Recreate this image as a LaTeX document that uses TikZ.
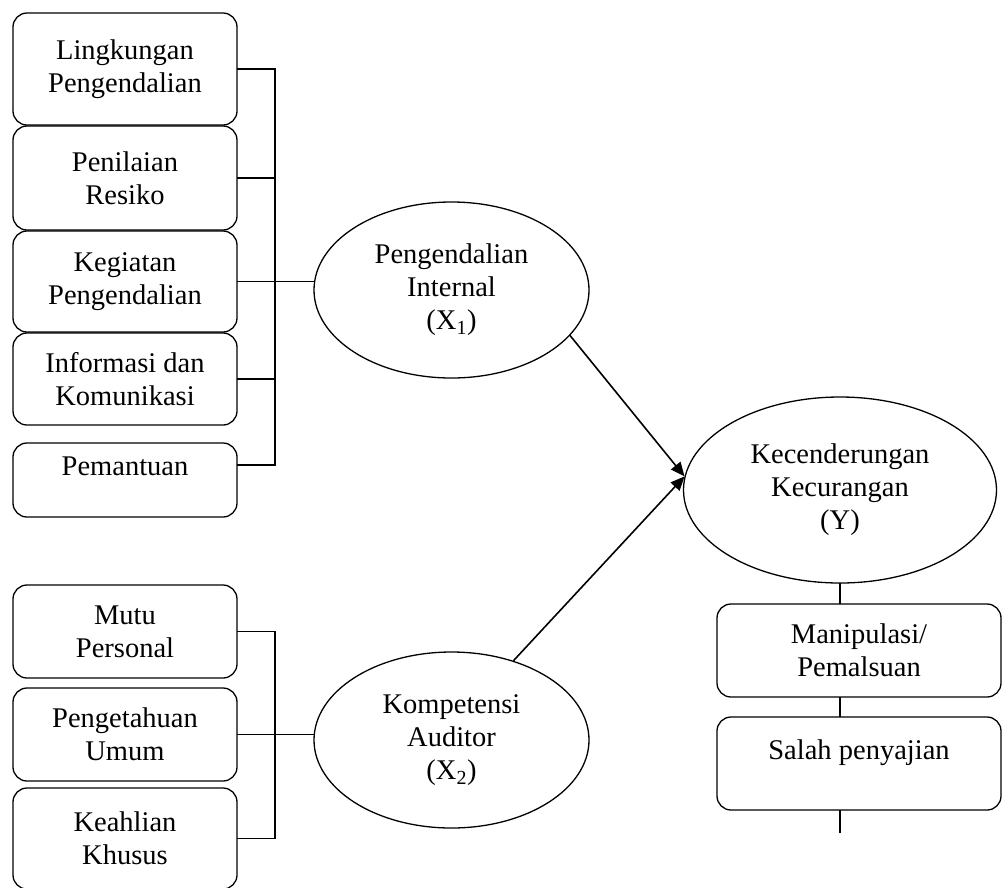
\documentclass[tikz,border=0pt]{standalone}
\usepackage{fontspec}
\setmainfont{Liberation Serif}
\usetikzlibrary{shapes.geometric,arrows.meta}

\begin{document}
\begin{tikzpicture}[x=1pt,y=-1pt]
%% Styles
\tikzset{indbox/.style={draw,line width=1.3pt,rounded corners=14pt,align=center,inner sep=0pt,
font=\fontsize{28.5}{33}\selectfont}}
\tikzset{latent/.style={draw,ellipse,line width=1.3pt,align=center,inner sep=0pt,
font=\fontsize{28.5}{33}\selectfont}}
\tikzset{link/.style={line width=1.6pt,line cap=rect}}
\tikzset{arr/.style={line width=1.6pt,-{Triangle[length=14pt,width=12pt]}}}
\useasboundingbox (0,0) rectangle (1003,887);

%% Latent variables
\node[latent,minimum width=275pt,minimum height=176pt] (e1) at (451.5,290) {Pengendalian\\Internal\\(X\textsubscript{1})};
\node[latent,minimum width=275pt,minimum height=176pt] (e2) at (451.5,740) {Kompetensi\\Auditor\\(X\textsubscript{2})};
\node[latent,minimum width=313pt,minimum height=186pt] (ey) at (840,490) {Kecenderungan\\Kecurangan\\(Y)};

%% Indicators X1
\foreach \n/\y/\h/\txt in {1/69/112/{Lingkungan\\Pengendalian},
2/178/104/{Penilaian\\Resiko},
3/281.5/101/{Kegiatan\\Pengendalian},
4/379/92/{Informasi dan\\Komunikasi},
5/480/74/{Pemantuan\\[-16pt]\strut}}{
\node[indbox,minimum width=224pt,minimum height=\h pt] (k\n) at (125,\y) {\txt};
}
%% Indicators X2
\foreach \n/\y/\h/\txt in {1/631.5/93/{Mutu\\Personal},
2/734.5/93/{Pengetahuan\\Umum},
3/838.5/101/{Keahlian\\Khusus}}{
\node[indbox,minimum width=224pt,minimum height=\h pt] (a\n) at (125,\y) {\txt};
}
%% Indicators Y
\node[indbox,minimum width=284pt,minimum height=93pt] (m1) at (859,650.5) {Manipulasi/\\Pemalsuan};
\node[indbox,minimum width=284pt,minimum height=93pt] (m2) at (859,763.5) {Salah penyajian\\[-16pt]\strut};

% Bus lines
\coordinate (busX) at (275,0);
\coordinate (tail) at (0,832);
\foreach \n in {1,...,4}{
\path[draw,link] (k\n.east) -- (k\n.east -| busX);
}
\path[draw,link] ([yshift=15pt]k5.east) -- ([yshift=15pt]k5.east -| busX);
\path[draw,link] (k1.east -| busX) -- ([yshift=15pt]k5.east -| busX);
\path[draw,link] (k3.east -| busX) -- (k3.east -| e1.west);

\foreach \n in {1,2,3}{
\path[draw,link] (a\n.east) -- (a\n.east -| busX);
}
\path[draw,link] (a1.east -| busX) -- (a3.east -| busX);
\path[draw,link] (a2.east -| busX) -- (a2.east -| e2.west);

\path[draw,link] (ey.south) -- (ey.south |- m1.north);
\path[draw,link] (ey.south |- m1.south) -- (ey.south |- m2.north);
\path[draw,link] (ey.south |- m2.south) -- (ey.south |- tail);

% Paths
\path[draw,arr] (e1.-21) -- (ey.175);
\path[draw,arr] (e2.52) -- (ey.175);
\end{tikzpicture}
\end{document}
